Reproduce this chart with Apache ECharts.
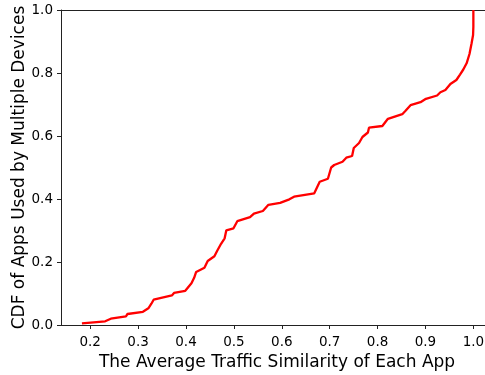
<!DOCTYPE html>
<html>
<head>
<meta charset="utf-8">
<script src="https://cdn.jsdelivr.net/npm/echarts@6/dist/echarts.min.js"></script>
<style>html,body{margin:0;padding:0;background:#fff;overflow:hidden}#c{width:485px;height:375px}</style>
</head>
<body>
<div id="c"></div>
<script>
const xValues = [0.1827,0.2312,0.243,0.2746,0.2778,0.310,0.3214,0.3277,0.3324,0.3705,0.375,0.3985,0.4114,0.417,0.4212,0.4385,0.4453,0.4593,0.4649,0.4732,0.4807,0.4842,0.4992,0.5071,0.5337,0.5418,0.5605,0.5721,0.5965,0.6158,0.6256,0.6678,0.6792,0.6963,0.7031,0.7094,0.7268,0.7347,0.7468,0.7503,0.7613,0.7684,0.7798,0.7821,0.81,0.8216,0.8516,0.8584,0.8688,0.8896,0.901,0.9243,0.9312,0.9416,0.952,0.9645,0.9721,0.979,0.9859,0.9919,0.9963,0.9994,1.0,1.0];
const cdfValues = [0.005,0.0117,0.020,0.0276,0.0349,0.0419,0.053,0.0676,0.0803,0.0937,0.1016,0.1086,0.1324,0.1498,0.1683,0.1819,0.2032,0.2181,0.2349,0.2578,0.2752,0.3006,0.307,0.3295,0.3422,0.3533,0.3619,0.3816,0.3879,0.399,0.4073,0.4181,0.4549,0.4644,0.5,0.5079,0.5184,0.5311,0.5365,0.5619,0.5778,0.5968,0.6111,0.6263,0.6317,0.6546,0.6692,0.68,0.6978,0.7073,0.7181,0.7286,0.739,0.746,0.765,0.7778,0.7952,0.8111,0.8308,0.8603,0.8943,0.9206,0.947,1.0];
const xTicks = [0.2,0.3,0.4,0.5,0.6,0.7,0.8,0.9,1.0];
const yTicks = [0.0,0.2,0.4,0.6,0.8,1.0];
const xTitle = 'The Average Traffic Similarity of Each App';
const yTitle = 'CDF of Apps Used by Multiple Devices';

const data = xValues.map((x, i) => [x, cdfValues[i]]);
const font = 'DejaVu Sans';
const chart = echarts.init(document.getElementById('c'), null, {renderer: 'canvas'});
chart.setOption({
  animation: false,
  backgroundColor: '#fff',
  grid: {left: 61, top: 10, width: 432, height: 315, show: false,
    containLabel: false, outerBoundsMode: 'none'},
  xAxis: [{
    type: 'value', min: 0.139, max: 1.041,
    name: xTitle, nameLocation: 'middle', nameGap: 29, nameMoveOverlap: false,
    nameTextStyle: {fontFamily: font, fontSize: 17, color: '#000'},
    axisLine: {show: true, lineStyle: {color: '#222', width: 1}},
    axisTick: {show: true, length: 4, customValues: xTicks, lineStyle: {color: '#222'}},
    axisLabel: {customValues: xTicks, fontFamily: font, fontSize: 13.5, color: '#000', margin: 10,
      formatter: v => v.toFixed(1)},
    splitLine: {show: false}
  }, {
    type: 'value', position: 'top', min: 0.139, max: 1.041,
    axisLine: {show: true, onZero: false, lineStyle: {color: '#222', width: 1}},
    axisTick: {show: false}, axisLabel: {show: false}, splitLine: {show: false}
  }],
  yAxis: {
    type: 'value', min: 0, max: 1,
    name: yTitle, nameLocation: 'middle', nameGap: 33, nameRotate: 90, nameMoveOverlap: false,
    nameTextStyle: {fontFamily: font, fontSize: 17, color: '#000'},
    axisLine: {show: true, lineStyle: {color: '#222', width: 1}},
    axisTick: {show: true, length: 4, customValues: yTicks, lineStyle: {color: '#222'}},
    axisLabel: {customValues: yTicks, fontFamily: font, fontSize: 13.5, color: '#000', margin: 8,
      formatter: v => v.toFixed(1)},
    splitLine: {show: false}
  },
  series: [{
    type: 'line', data: data, showSymbol: false, symbol: 'none', xAxisIndex: 0,
    lineStyle: {color: '#ff0000', width: 2.3}, clip: false
  }]
});
</script>
</body>
</html>
